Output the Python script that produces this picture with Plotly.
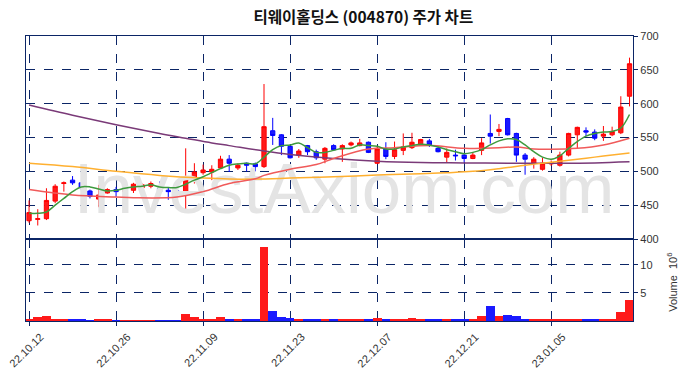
import plotly.graph_objects as go
from plotly.subplots import make_subplots

tick_idx = [0, 10, 20, 30, 40, 50, 60]
tick_labels = ["22.10.12", "22.10.26", "22.11.09", "22.11.23", "22.12.07", "22.12.21", "23.01.05"]

opens = [427, 429, 430, 456, 482, 487, 483, 471, 459, 468,
         473, 470, 472, 476, 478, 475, 472, 471, 468, 488,
         498, 499, 505, 518, 505, 512, 511, 507, 560, 554,
         537, 524, 538, 529, 518, 538, 533, 539, 538, 543,
         512, 533, 522, 531, 535, 539, 545, 534, 521, 524,
         524, 519, 531, 556, 559, 578, 556, 524, 512, 503,
         511, 509, 524, 554, 560, 558, 552, 554, 557, 611]
highs = [457, 444, 475, 481, 485, 493, 484, 473, 480, 475,
         477, 480, 483, 482, 485, 485, 476, 473, 534, 512,
         510, 509, 523, 524, 512, 513, 513, 629, 579, 555,
         539, 533, 539, 532, 536, 540, 540, 544, 548, 544,
         537, 543, 544, 556, 557, 548, 548, 537, 534, 532,
         527, 528, 549, 584, 570, 579, 557, 527, 521, 520,
         516, 529, 557, 566, 565, 562, 567, 566, 611, 668]
lows = [424, 420, 428, 453, 470, 480, 472, 460, 447, 467,
        462, 462, 468, 470, 475, 463, 458, 460, 444, 482,
        495, 487, 504, 499, 502, 500, 500, 505, 539, 524,
        519, 520, 524, 517, 512, 530, 514, 537, 537, 527,
        511, 518, 518, 524, 533, 538, 536, 528, 513, 516,
        512, 518, 524, 541, 552, 553, 514, 495, 504, 501,
        508, 507, 522, 534, 552, 546, 545, 552, 555, 596]
closes = [439, 430, 457, 478, 483, 483, 476, 463, 465, 473,
          470, 475, 481, 480, 482, 470, 470, 468, 487, 499,
          502, 503, 518, 512, 509, 509, 507, 566, 553, 537,
          520, 530, 529, 520, 534, 532, 538, 542, 542, 528,
          533, 522, 532, 536, 543, 547, 539, 529, 528, 523,
          519, 524, 542, 552, 562, 554, 524, 518, 518, 512,
          513, 524, 556, 565, 558, 549, 555, 559, 595, 659]
volumes_m = [0.36, 0.71, 0.9, 0.36, 0.18, 0.36, 0.18, 0.12, 0.18, 0.18,
             0.15, 0.15, 0.12, 0.12, 0.12, 0.12, 0.12, 0.12, 1.25, 0.71,
             0.36, 0.18, 0.71, 0.36, 0.18, 0.18, 0.18, 13.2, 1.8, 0.71,
             0.54, 0.36, 0.36, 0.36, 0.36, 0.36, 0.3, 0.18, 0.18, 0.18,
             0.6, 0.18, 0.18, 0.36, 0.6, 0.18, 0.18, 0.36, 0.36, 0.18,
             0.18, 0.36, 0.95, 2.7, 0.95, 1.13, 0.95, 0.36, 0.18, 0.18,
             0.36, 0.18, 0.36, 0.36, 0.36, 0.18, 0.36, 0.18, 1.67, 3.75]

ma5 = [438, 438, 440, 450, 460, 470, 477, 477, 474, 471,
       472, 475, 477, 478, 480, 477, 476, 476, 481, 487,
       492, 498, 504, 509, 511, 512, 511, 521, 532, 538,
       539, 542, 535, 528, 528, 531, 534, 534, 539, 538,
       537, 533, 533, 536, 538, 540, 539, 536, 532, 529,
       526, 528, 532, 539, 545, 548, 547, 539, 529, 521,
       518, 523, 534, 544, 552, 556, 558, 559, 564, 584]
ma20_idx = [0, 5, 10, 12, 17, 20, 23, 26, 27, 30, 33, 35, 39, 42, 46, 50, 54, 56, 58, 60, 63, 66, 69]
ma20_val = [473, 465, 462, 461, 462, 470, 482, 489, 494, 503, 510, 519, 533, 535, 538, 534, 535, 536, 533, 532.6, 534, 539, 549]
ma60_idx = [0, 5, 10, 15, 20, 23, 26, 30, 35, 40, 45, 48, 51, 54, 57, 59, 61, 63, 65, 67, 69]
ma60_val = [512, 507, 500, 494, 490, 488.6, 488.6, 490, 492, 494.5, 496.5, 498, 500, 504, 509, 512, 515, 518, 521, 524, 527]
ma120_idx = [0, 5, 10, 15, 18, 21, 23, 27, 30, 35, 40, 45, 50, 55, 60, 65, 69]
ma120_val = [598, 583, 569, 556, 549, 542, 538, 530, 525, 519, 515, 513, 512.5, 512, 512, 512.5, 514]

idx = list(range(len(closes)))
vol_colors = ["#ff1a1a" if c >= o else "#1a1aff" for o, c in zip(opens, closes)]

NAVY = "#0b2566"
LABEL_FONT = dict(family="Liberation Sans, Arial", size=11, color="#333333")

fig = make_subplots(rows=2, cols=1, shared_xaxes=True, vertical_spacing=0)

# watermark behind everything
fig.add_trace(go.Scatter(x=[36.2], y=[465], mode="text", text=["InvestAxiom.com"],
                         textfont=dict(family="Liberation Sans, Arial", size=71, color="#e4e4e4"),
                         hoverinfo="skip", showlegend=False), row=1, col=1)

fig.add_trace(go.Scatter(x=ma120_idx, y=ma120_val, mode="lines", line=dict(color="#7a3a78", width=1.5, shape="spline"),
                         showlegend=False), row=1, col=1)
fig.add_trace(go.Scatter(x=ma60_idx, y=ma60_val, mode="lines", line=dict(color="#ffb030", width=1.5, shape="spline"),
                         showlegend=False), row=1, col=1)
fig.add_trace(go.Scatter(x=ma20_idx, y=ma20_val, mode="lines", line=dict(color="#f05a5a", width=1.5, shape="spline"),
                         showlegend=False), row=1, col=1)
fig.add_trace(go.Scatter(x=idx, y=ma5, mode="lines", line=dict(color="#3d9a3d", width=1.5, shape="spline"),
                         showlegend=False), row=1, col=1)

fig.add_trace(go.Candlestick(x=idx, open=opens, high=highs, low=lows, close=closes,
                             increasing=dict(line=dict(color="#ff0000", width=1), fillcolor="#ff1a1a"),
                             decreasing=dict(line=dict(color="#0000ff", width=1), fillcolor="#1a1aff"),
                             whiskerwidth=0, showlegend=False), row=1, col=1)

fig.add_trace(go.Bar(x=idx, y=volumes_m, marker=dict(color=vol_colors, line=dict(width=0)),
                     width=1.0, showlegend=False), row=2, col=1)

xcommon = dict(range=[-0.35, 69.4], tickvals=tick_idx, showgrid=True, gridcolor=NAVY, griddash="dash",
               gridwidth=1, showline=True, mirror=True, linecolor=NAVY, linewidth=1.3, zeroline=False,
               automargin=False, showticklabels=False)
fig.update_xaxes(**xcommon)
fig.update_xaxes(ticks="", rangeslider=dict(visible=False), row=1, col=1)
fig.update_xaxes(ticks="outside", ticklen=4, tickcolor=NAVY, row=2, col=1)

ycommon = dict(side="right", showgrid=True, gridcolor=NAVY, griddash="dash",
               showline=True, mirror=True, linecolor=NAVY, linewidth=1.3, ticks="outside", ticklen=4,
               tickcolor=NAVY, zeroline=False, automargin=False, ticklabeloverflow="allow",
               tickfont=LABEL_FONT)
fig.update_yaxes(range=[400, 700], dtick=50, row=1, col=1, **ycommon)
fig.update_yaxes(range=[0, 14.6], tickvals=[5, 10], row=2, col=1, **ycommon)

# rotated date labels centred under their ticks
date_annotations = [dict(text=lab, x=i, xref="x2", y=-0.102, yref="paper", xanchor="center", yanchor="middle",
                         xshift=-2.5, textangle=-45, showarrow=False, font=LABEL_FONT)
                    for i, lab in zip(tick_idx, tick_labels)]

fig.update_layout(
    yaxis=dict(domain=[0.2877, 1.0]),
    yaxis2=dict(domain=[0.0, 0.2877]),
    width=678, height=370,
    margin=dict(l=18, r=53, t=28, b=57, autoexpand=False),
    paper_bgcolor="white", plot_bgcolor="white",
    showlegend=False, bargap=0,
    title=dict(text="<b>티웨이홀딩스 (004870) 주가 차트</b>", x=0.524, xanchor="center",
               y=1 - 10 / 370, yanchor="middle", yref="container", automargin=False,
               font=dict(family="Noto Sans CJK KR", size=15.5, color="#111111")),
    annotations=date_annotations + [
        dict(text="Volume  10<sup>6</sup>", xref="paper", yref="paper", x=1.064, y=0.137,
             xanchor="center", yanchor="middle", textangle=-90, showarrow=False, font=LABEL_FONT)],
)

fig.write_html("out.html")
